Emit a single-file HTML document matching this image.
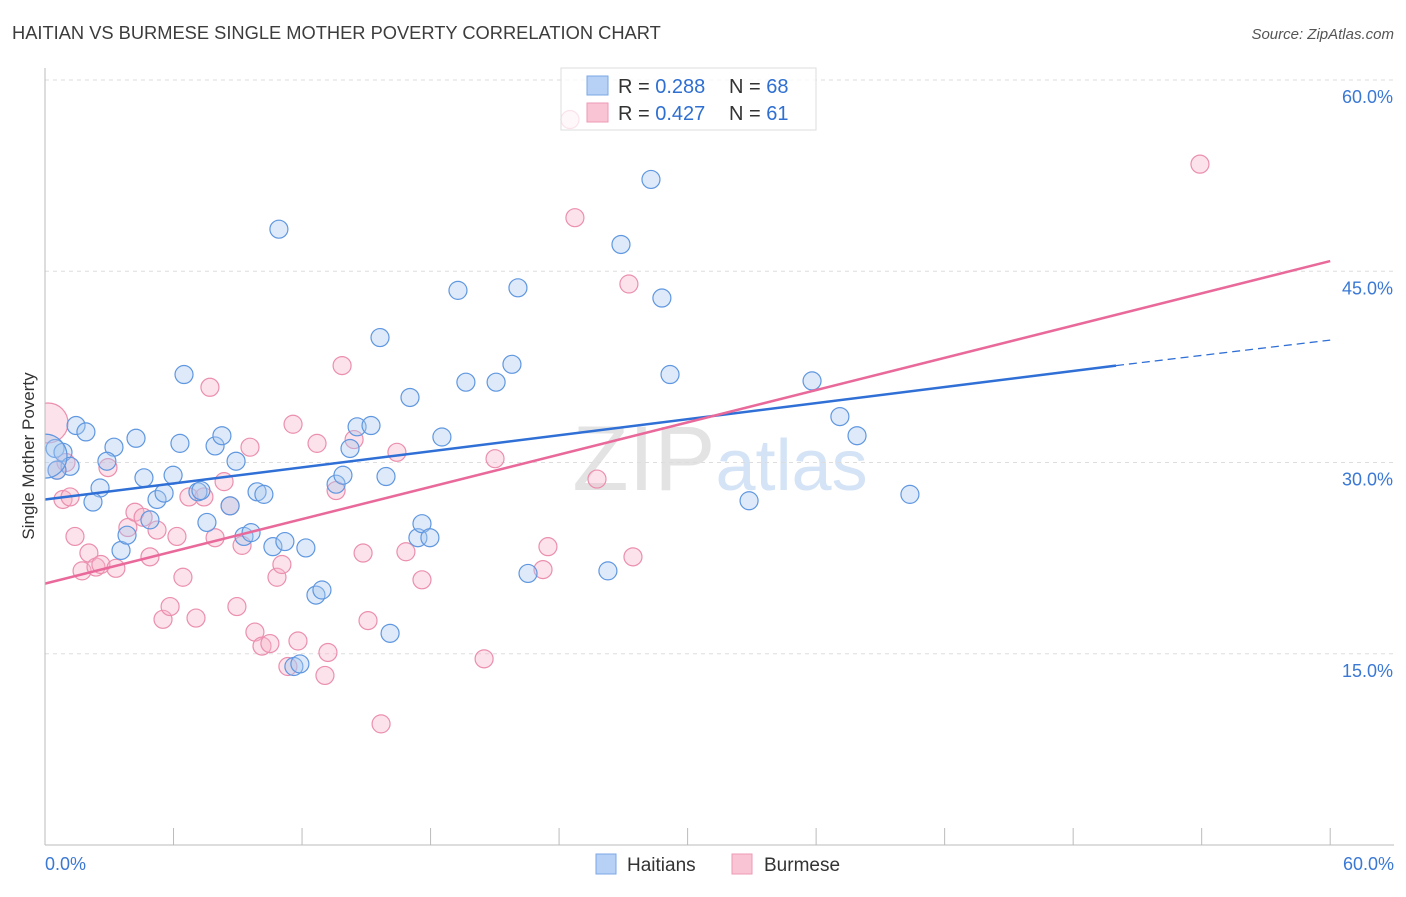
<!DOCTYPE html>
<html><head><meta charset="utf-8"><style>
body{margin:0;background:#fff;font-family:"Liberation Sans",sans-serif;}
svg text{font-family:"Liberation Sans",sans-serif;}
</style></head><body>
<svg id="chart" width="1406" height="892" xmlns="http://www.w3.org/2000/svg">
<text x="12" y="39" font-size="18.3" fill="#3c3c3c">HAITIAN VS BURMESE SINGLE MOTHER POVERTY CORRELATION CHART</text>
<text x="1394" y="39" font-size="15" fill="#555" font-style="italic" text-anchor="end">Source: ZipAtlas.com</text>
<text x="720" y="490" font-size="92" fill="#e3e3e3" text-anchor="middle" font-family="Liberation Serif">ZIP<tspan fill="#d4e3f5" font-family="Liberation Sans" font-size="72">atlas</tspan></text>
<g id="grid"></g><g id="marks"></g><g id="lines"></g><g id="axes"></g>
<text transform="translate(34,456) rotate(-90)" font-size="17" fill="#333" text-anchor="middle">Single Mother Poverty</text>
<g>
<rect x="561" y="68" width="255" height="62" fill="#fff" fill-opacity="0.75" stroke="#ddd"/>
<rect x="587" y="76" width="21" height="19" fill="#b6d1f5" stroke="#7aa7e6"/>
<rect x="587" y="103" width="21" height="19" fill="#f9c4d4" stroke="#ee9ab5"/>
<text x="618" y="93" font-size="20" fill="#333">R = <tspan fill="#2e6fd1">0.288</tspan></text>
<text x="729" y="93" font-size="20" fill="#333">N = <tspan fill="#2e6fd1">68</tspan></text>
<text x="618" y="120" font-size="20" fill="#333">R = <tspan fill="#2e6fd1">0.427</tspan></text>
<text x="729" y="120" font-size="20" fill="#333">N = <tspan fill="#2e6fd1"> 61</tspan></text>
</g>
<g>
<rect x="596" y="854" width="20" height="20" fill="#b6d1f5" stroke="#7aa7e6"/>
<text x="627" y="871" font-size="19" fill="#333">Haitians</text>
<rect x="732" y="854" width="20" height="20" fill="#f9c4d4" stroke="#ee9ab5"/>
<text x="764" y="871" font-size="19" fill="#333">Burmese</text>
</g>
</svg>
<script>
const blueX=[0.47,0.84,1.17,0.56,1.45,1.91,2.57,2.24,3.22,2.89,4.25,4.62,3.55,3.83,4.90,5.23,5.56,5.98,6.30,6.49,7.14,7.28,7.56,7.94,8.26,8.64,8.92,9.29,9.62,9.90,10.22,10.64,10.92,11.20,12.18,12.65,12.93,11.62,11.90,13.59,13.91,14.24,14.57,15.22,15.64,15.92,16.11,17.04,17.41,17.60,17.97,18.53,19.28,19.65,21.06,21.80,22.08,22.55,26.28,26.89,28.29,28.80,29.18,32.87,35.81,37.11,37.91,40.38];
const blueY=[31.1,30.8,29.7,29.4,32.9,32.4,28.0,26.9,31.2,30.1,31.9,28.8,23.1,24.3,25.5,27.1,27.6,29.0,31.5,36.9,27.7,27.8,25.3,31.3,32.1,26.6,30.1,24.2,24.5,27.7,27.5,23.4,48.3,23.8,23.3,19.6,20.0,14.0,14.2,28.3,29.0,31.1,32.8,32.9,39.8,28.9,16.6,35.1,24.1,25.2,24.1,32.0,43.5,36.3,36.3,37.7,43.7,21.3,21.5,47.1,52.2,42.9,36.9,27.0,36.4,33.6,32.1,27.5];
const pinkX=[0.14,0.56,0.98,0.84,1.17,1.40,1.73,2.05,2.38,2.61,2.94,3.31,3.87,4.20,4.58,4.90,5.23,5.51,5.84,6.16,6.44,6.72,7.05,7.42,7.70,7.94,8.36,8.64,8.96,9.20,9.57,9.80,10.13,10.50,10.83,11.06,11.34,11.58,11.81,12.70,13.07,13.21,13.59,13.87,14.43,14.85,15.08,15.69,16.43,16.85,17.60,20.50,21.01,23.25,23.48,24.51,24.74,25.77,27.26,27.45,53.92];
const pinkY=[33.1,29.4,30.0,27.1,27.3,24.2,21.5,22.9,21.8,22.0,29.6,21.7,24.9,26.1,25.7,22.6,24.7,17.7,18.7,24.2,21.0,27.3,17.8,27.3,35.9,24.1,28.5,26.6,18.7,23.5,31.2,16.7,15.6,15.8,21.0,22.0,14.0,33.0,16.0,31.5,13.3,15.1,27.8,37.6,31.8,22.9,17.6,9.5,30.8,23.0,20.8,14.6,30.3,21.6,23.4,56.9,49.2,28.7,44.0,22.6,53.4];
const yTicks=[15,30,45,60];
const xTickVals=[0,6,12,18,24,30,36,42,48,54,60];
const blueTrend=[27.1,37.6,39.6]; // at x=0, 50, 60
const pinkTrend=[20.5,45.8];      // at x=0, 60
const NS="http://www.w3.org/2000/svg";
const sx=v=>45+v*21.42, sy=v=>845-v*12.75;
function mk(tag,attrs,parent){const e=document.createElementNS(NS,tag);for(const k in attrs)e.setAttribute(k,attrs[k]);parent.appendChild(e);return e;}
const grid=document.getElementById('grid'),marks=document.getElementById('marks'),lines=document.getElementById('lines'),axes=document.getElementById('axes');
yTicks.forEach(t=>{
 const l=mk('line',{x1:45,x2:1394,y1:sy(t),y2:sy(t),stroke:'#ddd','stroke-dasharray':'4,4'},grid);
 
 
 const tx=mk('text',{x:1393,y:sy(t)+23,'font-size':18,fill:'#3a78d4','text-anchor':'end'},axes);
 tx.textContent=t.toFixed(1)+'%';
 
 
});
mk('line',{x1:45,x2:45,y1:68,y2:845,stroke:'#bbb'},axes);
mk('line',{x1:45,x2:1394,y1:845,y2:845,stroke:'#bbb'},axes);
xTickVals.forEach(t=>{const l=mk('line',{x1:sx(t),x2:sx(t),y1:828,y2:845,stroke:'#bbb'},axes);
 
 });
[[0,'start',45],[60,'end',1394]].forEach(([v,a,x])=>{const tx=mk('text',{x:x,y:870,'font-size':18,fill:'#3a78d4','text-anchor':a},axes);tx.textContent=v.toFixed(1)+'%';
 
 });
const clip=mk('clipPath',{id:'pc'},document.getElementById('chart'));mk('rect',{x:45,y:60,width:1360,height:785},clip);
marks.setAttribute('clip-path','url(#pc)');
function dots(X,Y,fill,stroke,name,big){X.forEach((x,i)=>{const c=mk('circle',{cx:sx(x),cy:sy(Y[i]),r:(i===0?big:9),fill:fill,'fill-opacity':0.38,stroke:stroke,'stroke-width':1.2},marks);
 
 });}
dots(pinkX,pinkY,'#f7b3c8','#eb8fae','burmese-point',20);
dots(blueX,blueY,'#a9c8f0','#5f97e0','haitian-point',9);
const bb=mk('circle',{cx:sx(0),cy:sy(30.5),r:22,fill:'#a9c8f0','fill-opacity':0.38,stroke:'#5f97e0','stroke-width':1.2},marks);


const b1=mk('line',{x1:sx(0),y1:sy(blueTrend[0]),x2:sx(50),y2:sy(blueTrend[1]),stroke:'#2f6fd6','stroke-width':2.5},lines);


const b2=mk('line',{x1:sx(50),y1:sy(blueTrend[1]),x2:sx(60),y2:sy(blueTrend[2]),stroke:'#2f6fd6','stroke-width':1.3,'stroke-dasharray':'8,5'},lines);


const p1=mk('line',{x1:sx(0),y1:sy(pinkTrend[0]),x2:sx(60),y2:sy(pinkTrend[1]),stroke:'#e8699a','stroke-width':2.5},lines);


</script>
</body></html>
